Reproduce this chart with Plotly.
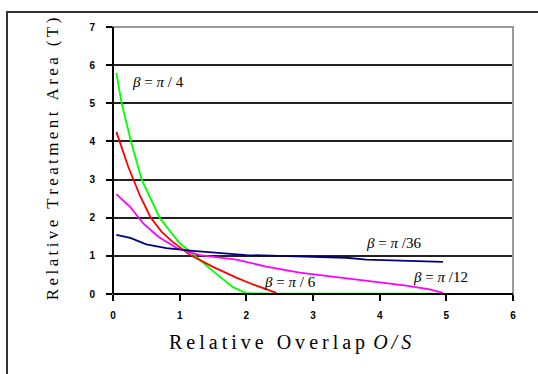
import plotly.graph_objects as go

# ---- data ----
x_pi4 = [0.05, 0.13, 0.27, 0.43, 0.70, 1.00, 1.20, 1.50, 1.80, 2.00, 2.50, 3.00, 3.50, 4.00, 4.50, 4.95]
y_pi4 = [5.80, 5.00, 4.00, 3.00, 2.00, 1.33, 1.05, 0.60, 0.18, 0.02, 0.01, 0.01, 0.01, 0.01, 0.01, 0.01]

x_pi6 = [0.05, 0.23, 0.40, 0.56, 0.73, 0.90, 1.16, 1.50, 1.85, 2.10, 2.45]
y_pi6 = [4.25, 3.33, 2.60, 2.02, 1.63, 1.36, 1.02, 0.71, 0.43, 0.25, 0.03]

x_pi12 = [0.05, 0.26, 0.45, 0.68, 0.96, 1.30, 1.85, 2.30, 2.80, 3.30, 3.90, 4.40, 4.75, 4.95]
y_pi12 = [2.62, 2.28, 1.86, 1.50, 1.20, 1.02, 0.90, 0.72, 0.56, 0.45, 0.33, 0.22, 0.12, 0.03]

x_pi36 = [0.05, 0.26, 0.50, 0.80, 1.20, 1.60, 2.00, 2.50, 3.00, 3.50, 3.80, 4.30, 4.75, 4.95]
y_pi36 = [1.55, 1.47, 1.30, 1.20, 1.13, 1.07, 1.02, 1.00, 0.98, 0.95, 0.90, 0.88, 0.86, 0.84]

x_ticks = [0, 1, 2, 3, 4, 5, 6]
y_ticks = [0, 1, 2, 3, 4, 5, 6, 7]

labels = ["<i>β</i> = <i>π</i> / 4", "<i>β</i> = <i>π</i> / 6", "<i>β</i> = <i>π</i> /12", "<i>β</i> = <i>π</i> /36"]
label_x = [0.26, 2.24, 4.47, 3.76]
label_y = [5.55, 0.31, 0.45, 1.34]

SP = "\u2009"


def spaced(s):
    return SP.join(list(s))


fig = go.Figure()
series = [
    (x_pi4, y_pi4, "#00FF00"),
    (x_pi6, y_pi6, "#FF0000"),
    (x_pi12, y_pi12, "#FF00FF"),
    (x_pi36, y_pi36, "#000080"),
]
for xs, ys, col in series:
    fig.add_trace(go.Scatter(x=xs, y=ys, mode="lines",
                             line=dict(color=col, width=1.8),
                             showlegend=False, hoverinfo="skip"))

for t, lx, ly in zip(labels, label_x, label_y):
    fig.add_annotation(x=lx, y=ly, text=t, showarrow=False, xanchor="left",
                       yanchor="middle",
                       font=dict(family="Liberation Serif", size=15, color="black"))

# axis titles as annotations
fig.add_annotation(xref="paper", yref="paper", x=0.4425, y=-0.18,
                   text=spaced("Relative Overlap") + SP + SP + "<i>" + spaced("O/S") + "</i>",
                   showarrow=False, xanchor="center", yanchor="middle",
                   font=dict(family="Liberation Serif", size=20, color="black"))
fig.add_annotation(xref="paper", yref="paper", x=-0.1525, y=0.505,
                   text=spaced("Relative Treatment Area (T)"), textangle=-90,
                   showarrow=False, xanchor="center", yanchor="middle",
                   font=dict(family="Liberation Serif", size=17, color="black"))

# plot-area border (gray) and outer frame
fig.add_shape(type="rect", xref="paper", yref="paper", x0=0, x1=1, y0=0, y1=1,
              line=dict(color="#9a9a9a", width=2), layer="above")
fig.add_shape(type="rect", xref="paper", yref="paper", x0=-0.265, x1=1.08,
              y0=-0.32, y1=1.056, line=dict(color="#333333", width=2), layer="above")
# black axis lines on top
fig.add_shape(type="line", xref="paper", yref="paper", x0=0, x1=0, y0=0, y1=1,
              line=dict(color="black", width=2), layer="above")
fig.add_shape(type="line", xref="paper", yref="paper", x0=0, x1=1, y0=0, y1=0,
              line=dict(color="black", width=2), layer="above")

tickfont = dict(family="Liberation Sans", size=10, color="black", weight="bold")
fig.update_xaxes(range=[0, 6], tickvals=x_ticks, ticks="outside", ticklen=6,
                 tickwidth=1.5, tickcolor="black", showgrid=False, zeroline=False,
                 showline=False, tickfont=tickfont, ticklabelstandoff=6)
fig.update_yaxes(range=[0, 7], tickvals=y_ticks, ticks="outside", ticklen=6,
                 tickwidth=1.5, tickcolor="black", showgrid=True, gridcolor="#222222",
                 gridwidth=1.5, zeroline=False, showline=False, tickfont=tickfont,
                 ticklabelstandoff=9)
fig.update_layout(width=538, height=374, margin=dict(l=113, r=25, t=27, b=80),
                  paper_bgcolor="white", plot_bgcolor="white")
fig.write_html("out.html")
